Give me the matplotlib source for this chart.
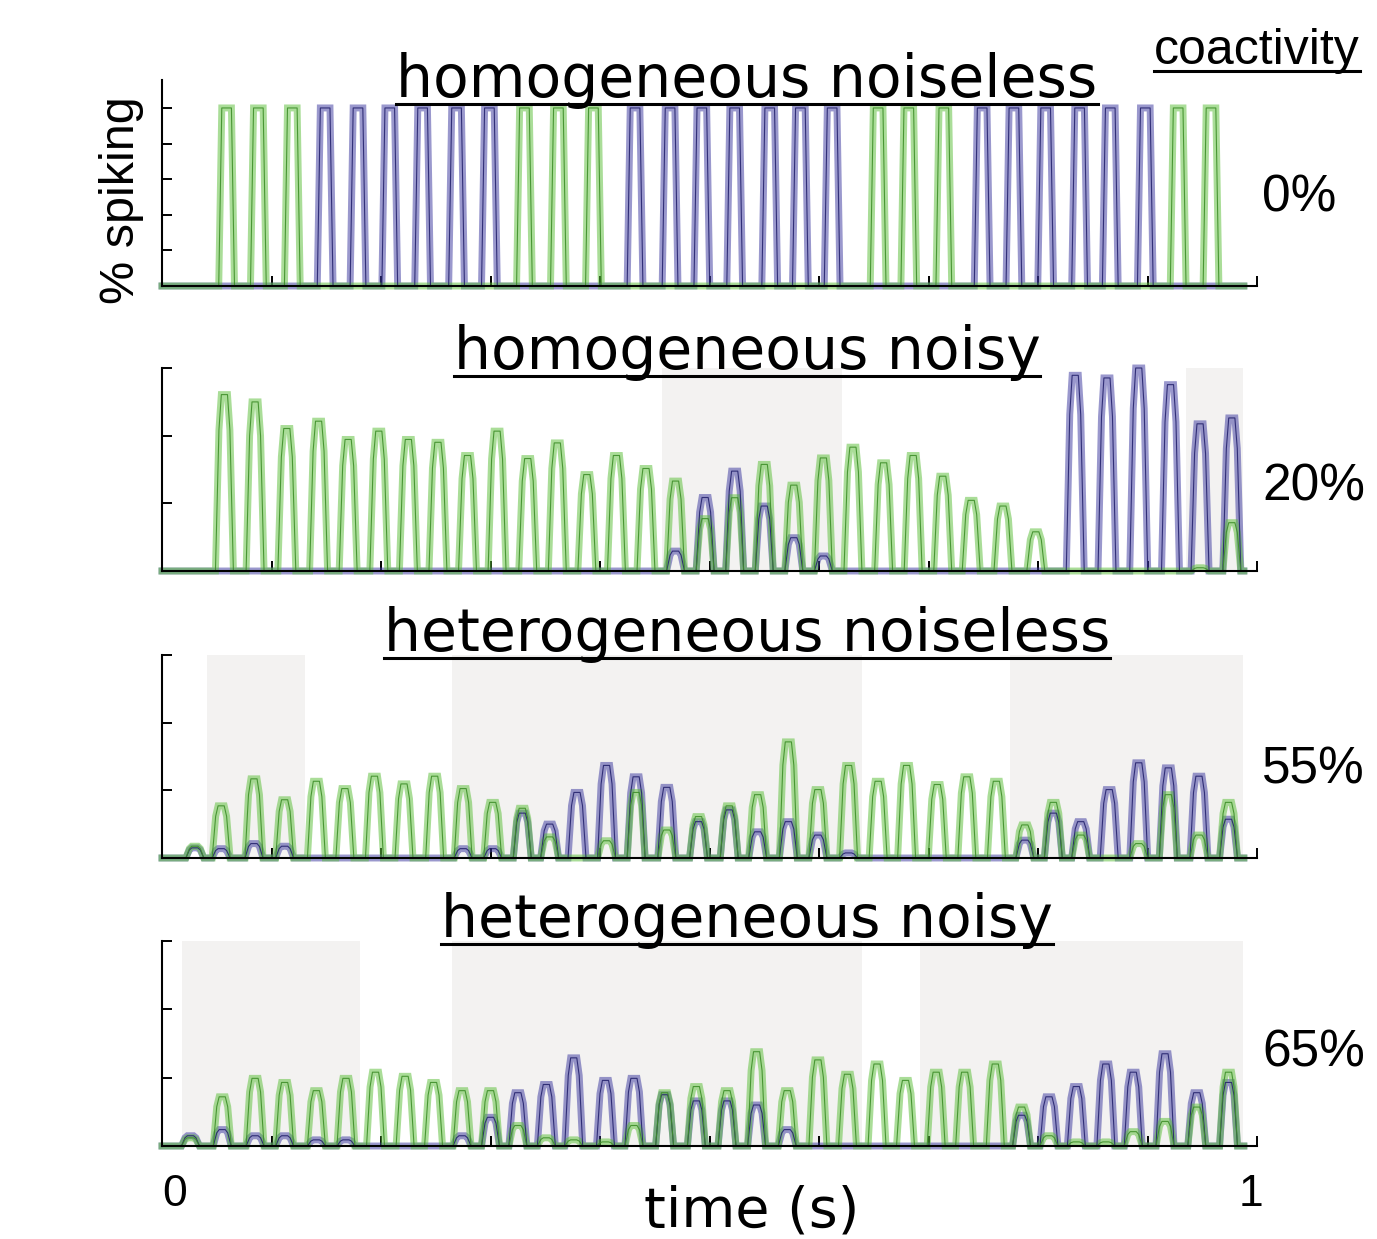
import numpy as np
import matplotlib
matplotlib.use('Agg')
import matplotlib.pyplot as plt
from matplotlib.lines import Line2D

# ---- data ----
# homogeneous noiseless: spike times, 1 = population active
hnl_times = [0.059, 0.088, 0.119, 0.149, 0.179, 0.208, 0.238, 0.269, 0.299,
             0.331, 0.362, 0.394, 0.432, 0.464, 0.493, 0.523, 0.555, 0.583, 0.612,
             0.654, 0.682, 0.714, 0.749, 0.778, 0.807, 0.838, 0.866, 0.898,
             0.928, 0.958]
hnl_green = [1, 1, 1, 0, 0, 0, 0, 0, 0, 1, 1, 1, 0, 0, 0, 0, 0, 0, 0,
             1, 1, 1, 0, 0, 0, 0, 0, 0, 1, 1]
hnl_blue = [1 - g for g in hnl_green]

# homogeneous noisy
hny_times = [0.057, 0.085, 0.114, 0.143, 0.170, 0.198, 0.225, 0.252, 0.279, 0.306,
             0.334, 0.361, 0.388, 0.415, 0.442, 0.469, 0.496, 0.523, 0.550, 0.577,
             0.604, 0.631, 0.659, 0.686, 0.713, 0.739, 0.768, 0.798, 0.834, 0.863,
             0.892, 0.921, 0.948, 0.977]
hny_green = [0.869, 0.833, 0.702, 0.738, 0.648, 0.689, 0.648, 0.634, 0.569, 0.689,
             0.554, 0.631, 0.475, 0.569, 0.505, 0.443, 0.258, 0.361, 0.525, 0.423,
             0.557, 0.610, 0.533, 0.569, 0.467, 0.348, 0.320, 0.193, 0, 0,
             0, 0, 0.016, 0.238]
hny_blue = [0, 0, 0, 0, 0, 0, 0, 0, 0, 0,
            0, 0, 0, 0, 0, 0.098, 0.362, 0.492, 0.320, 0.164,
            0.074, 0, 0, 0, 0, 0, 0, 0, 0.964, 0.951,
            1.0, 0.918, 0.725, 0.754]

# heterogeneous noiseless
htl_times = [0.030, 0.054, 0.084, 0.112, 0.141, 0.167, 0.194, 0.221, 0.249, 0.275,
             0.302, 0.329, 0.354, 0.379, 0.406, 0.433, 0.461, 0.490, 0.518, 0.544,
             0.572, 0.599, 0.627, 0.654, 0.680, 0.708, 0.735, 0.762, 0.788, 0.814,
             0.839, 0.865, 0.892, 0.919, 0.947, 0.974]
htl_green = [0.058, 0.257, 0.390, 0.287, 0.378, 0.342, 0.403, 0.365, 0.403, 0.342,
             0.274, 0.245, 0.104, 0, 0.085, 0.323, 0.138, 0.204, 0.257, 0.312,
             0.572, 0.337, 0.456, 0.378, 0.456, 0.362, 0.400, 0.378, 0.163, 0.274,
             0.113, 0, 0.071, 0.312, 0.113, 0.274]
htl_blue = [0.05, 0.046, 0.071, 0.058, 0, 0, 0, 0, 0, 0.046,
            0.046, 0.221, 0.167, 0.323, 0.456, 0.400, 0.348, 0.179, 0.237, 0.129,
            0.179, 0.113, 0.025, 0, 0, 0, 0, 0, 0.088, 0.221,
            0.179, 0.337, 0.469, 0.444, 0.403, 0.191]

# heterogeneous noisy
hty_times = [0.026, 0.055, 0.085, 0.112, 0.141, 0.168, 0.195, 0.222, 0.248, 0.274,
             0.300, 0.325, 0.351, 0.376, 0.405, 0.431, 0.459, 0.488, 0.516, 0.543,
             0.571, 0.599, 0.626, 0.653, 0.679, 0.707, 0.733, 0.761, 0.785, 0.810,
             0.835, 0.862, 0.887, 0.916, 0.945, 0.974]
hty_green = [0.04, 0.24, 0.33, 0.31, 0.27, 0.33, 0.36, 0.34, 0.31, 0.27,
             0.27, 0.10, 0.04, 0.03, 0.02, 0.10, 0.26, 0.29, 0.27, 0.46,
             0.27, 0.42, 0.35, 0.40, 0.32, 0.36, 0.36, 0.40, 0.19, 0.05,
             0.02, 0.02, 0.07, 0.12, 0.19, 0.36]
hty_blue = [0.05, 0.08, 0.05, 0.05, 0.03, 0.03, 0, 0, 0, 0.05,
            0.14, 0.26, 0.30, 0.43, 0.32, 0.33, 0.25, 0.22, 0.22, 0.20,
            0.08, 0, 0, 0, 0, 0, 0, 0, 0.15, 0.24,
            0.29, 0.40, 0.36, 0.45, 0.26, 0.31]

titles = ['homogeneous noiseless', 'homogeneous noisy',
          'heterogeneous noiseless', 'heterogeneous noisy']
coactivity = ['0%', '20%', '55%', '65%']
shaded = [[], [(0.457, 0.621), (0.935, 0.987)],
          [(0.041, 0.131), (0.265, 0.639), (0.774, 0.987)],
          [(0.018, 0.181), (0.265, 0.639), (0.692, 0.987)]]

panels = [(hnl_times, hnl_green, hnl_blue), (hny_times, hny_green, hny_blue),
          (htl_times, htl_green, htl_blue), (hty_times, hty_green, hty_blue)]

T_END = 0.988
SQUARE = ([-0.0072, -0.0044, 0.0044, 0.0072], [0, 1, 1, 0])
ROUND = ([-0.0082, -0.0050, -0.0028, 0.0028, 0.0050, 0.0082], [0, 0.8, 1, 1, 0.8, 0])


def trace(times, heights, shape):
    dt, lv = shape
    xs, ys = [0.0], [0.0]
    for t, h in zip(times, heights):
        xs.extend(t + np.array(dt))
        ys.extend(h * np.array(lv))
    xs.append(T_END)
    ys.append(0.0)
    return np.array(xs), np.array(ys)


W, H = 1377, 1239
fig = plt.figure(figsize=(W / 100, H / 100), dpi=100)

left, width = 162 / W, 1095 / W
rows = [(80, 286), (368, 571), (655, 858), (941, 1146)]
title_base = [97, 369, 651, 937]
label_y = [198, 487, 770, 1053]

green_wide, green_thin = '#5cbf3a', '#3f8f2a'
blue_wide, blue_thin = '#3d3aa0', '#26246e'

titles_txt = []
for i, ((top, bot), (tt, gg, bb)) in enumerate(zip(rows, panels)):
    ax = fig.add_axes([left, 1 - bot / H, width, (bot - top) / H])
    shape = SQUARE if i == 0 else ROUND
    for a, b in shaded[i]:
        ax.axvspan(a, b, color='#f3f2f1', lw=0, zorder=0)
    for hts, cw, ct in [(bb, blue_wide, blue_thin), (gg, green_wide, green_thin)]:
        x, y = trace(tt, hts, shape)
        ax.plot(x, y, color=cw, lw=5.0, alpha=0.52, solid_joinstyle='miter',
                clip_on=False, zorder=2)
        ax.plot(x, y, color=ct, lw=0.8, alpha=0.9, clip_on=False, zorder=3)
    ax.set_xlim(0, 1)
    if i == 0:
        ax.set_ylim(0, 1.157)
        ax.set_yticks(np.arange(0.2, 1.01, 0.2))
    else:
        ax.set_ylim(0, 1)
        ax.set_yticks([1 / 3, 2 / 3, 1])
    ax.set_xticks(np.arange(0.1, 1.01, 0.1))
    ax.tick_params(direction='in', length=7, width=1.4, labelbottom=False,
                   labelleft=False, color='black')
    for s in ['top', 'right']:
        ax.spines[s].set_visible(False)
    for s in ['left', 'bottom']:
        ax.spines[s].set_linewidth(1.5)
        ax.spines[s].set_zorder(5)
    ax.set_facecolor('none')

    txt = fig.text(747 / W, 1 - title_base[i] / H, titles[i], ha='center',
                   va='baseline', fontsize=42, family='DejaVu Sans')
    titles_txt.append((txt, title_base[i]))
    fig.text(1262 / W, 1 - label_y[i] / H, coactivity[i], ha='left', va='center',
             fontsize=37, family='Liberation Sans')

co = fig.text(1257 / W, 1 - 64 / H, 'coactivity', ha='center', va='baseline',
              fontsize=36, family='Liberation Sans')
titles_txt.append((co, 64))

fig.text(122 / W, 1 - 200 / H, '% spiking', rotation=90, ha='center', va='center',
         fontsize=35, family='Liberation Sans')
fig.text(752 / W, 1 - 1212 / H, 'time (s)', ha='center', va='center',
         fontsize=40, family='DejaVu Sans')
fig.text(175 / W, 1 - 1195 / H, '0', ha='center', va='center', fontsize=32,
         family='Liberation Sans')
fig.text(1251 / W, 1 - 1195 / H, '1', ha='center', va='center', fontsize=32,
         family='Liberation Sans')

# underline the titles
fig.canvas.draw()
r = fig.canvas.get_renderer()
for txt, base in titles_txt:
    bb = txt.get_window_extent(r)
    yu = 1 - (base + 7) / H
    fig.add_artist(Line2D([bb.x0 / W, bb.x1 / W], [yu, yu], color='black',
                          lw=2.2, transform=fig.transFigure))

fig.savefig('out.png', dpi=100)
plt.close(fig)
